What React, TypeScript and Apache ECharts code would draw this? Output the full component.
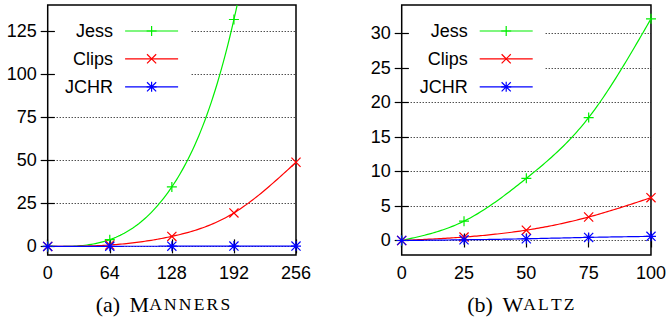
import React, { useEffect, useRef } from "react";
import * as echarts from "echarts";

// Manners benchmark
const mannersX = [0, 64, 128, 192, 256];
const mannersJess = [0, 3.9, 34.5, 131.6, 340];
const mannersClips = [0, 0.8, 5.8, 19.4, 48.8];
const mannersJchr = [0, 0.05, 0.1, 0.15, 0.2];
const mannersYTicks = [0, 25, 50, 75, 100, 125];

// Waltz benchmark
const waltzX = [0, 25, 50, 75, 100];
const waltzJess = [0, 2.8, 9.0, 17.8, 32.1];
const waltzClips = [0, 0.5, 1.5, 3.4, 6.2];
const waltzJchr = [0, 0.1, 0.25, 0.45, 0.6];
const waltzYTicks = [0, 5, 10, 15, 20, 25, 30];

const seriesNames = ["Jess", "Clips", "JCHR"];

const GREEN = "#00ee00";
const RED = "#ff0000";
const BLUE = "#0000ff";

const PLUS = "path://M4.4,0H5.6V10H4.4Z M0,4.4H10V5.6H0Z";
const CROSS = "path://M0,0.85L0.85,0L10,9.15L9.15,10Z M10,0.85L0.85,10L0,9.15L9.15,0Z";
const STAR =
  "path://M4.4,0H5.6V10H4.4Z M0,4.4H10V5.6H0Z M0,0.85L0.85,0L10,9.15L9.15,10Z M10,0.85L0.85,10L0,9.15L9.15,0Z";

const SANS = "Liberation Sans";
const SERIF = "Liberation Serif";

const tickStyle = { show: true, inside: true, length: 7, lineStyle: { color: "#000", width: 1.2 } };

function xAxes(gridIndex: number, max: number, interval: number) {
  const base = {
    type: "value",
    gridIndex,
    min: 0,
    max,
    interval,
    axisLine: { show: false },
    axisTick: tickStyle,
    splitLine: { show: false },
  };
  return [
    {
      ...base,
      position: "bottom",
      axisLabel: { fontSize: 18, fontFamily: SANS, color: "#000", margin: 9 },
    },
    { ...base, position: "top", axisLabel: { show: false } },
  ];
}

function yAxes(gridIndex: number, min: number, max: number, ticks: number[]) {
  const base = {
    type: "value",
    gridIndex,
    min,
    max,
    axisLine: { show: false },
    axisTick: { ...tickStyle, customValues: ticks },
  };
  return [
    {
      ...base,
      position: "left",
      axisLabel: { customValues: ticks, fontSize: 18, fontFamily: SANS, color: "#000", margin: 11 },
      splitLine: { show: true, lineStyle: { color: "#000", width: 1, type: [1, 2] } },
    },
    {
      ...base,
      position: "right",
      axisLabel: { show: false, customValues: ticks },
      splitLine: { show: false },
    },
  ];
}

// natural cubic spline (like gnuplot "smooth csplines") evaluated in data space
function splineSamples(xs: number[], ys: number[], steps: number): number[][] {
  const n = xs.length;
  const h: number[] = [];
  for (let i = 0; i < n - 1; i++) h.push(xs[i + 1] - xs[i]);
  const m = new Array(n).fill(0);
  if (n > 2) {
    const a: number[] = [], b: number[] = [], c: number[] = [], d: number[] = [];
    for (let i = 1; i < n - 1; i++) {
      a.push(h[i - 1]);
      b.push(2 * (h[i - 1] + h[i]));
      c.push(h[i]);
      d.push(6 * ((ys[i + 1] - ys[i]) / h[i] - (ys[i] - ys[i - 1]) / h[i - 1]));
    }
    const k = b.length;
    for (let i = 1; i < k; i++) {
      const w = a[i] / b[i - 1];
      b[i] -= w * c[i - 1];
      d[i] -= w * d[i - 1];
    }
    const sol = new Array(k).fill(0);
    sol[k - 1] = d[k - 1] / b[k - 1];
    for (let i = k - 2; i >= 0; i--) sol[i] = (d[i] - c[i] * sol[i + 1]) / b[i];
    for (let i = 0; i < k; i++) m[i + 1] = sol[i];
  }
  const out: number[][] = [];
  for (let i = 0; i < n - 1; i++) {
    for (let s = 0; s <= steps; s++) {
      if (i > 0 && s === 0) continue;
      const t = s / steps;
      const x = xs[i] + t * h[i];
      const A = 1 - t, B = t;
      const y =
        A * ys[i] + B * ys[i + 1] +
        ((A * A * A - A) * m[i] + (B * B * B - B) * m[i + 1]) * (h[i] * h[i]) / 6;
      out.push([x, y]);
    }
  }
  return out;
}

function curveSeries(xs: number[], ys: number[], axisBase: number, color: string) {
  return {
    type: "custom",
    coordinateSystem: "cartesian2d",
    xAxisIndex: axisBase,
    yAxisIndex: axisBase,
    clip: true,
    silent: true,
    data: xs.map((x, i) => [x, ys[i]]),
    encode: { x: 0, y: 1 },
    renderItem: (params: any, api: any) => {
      if (params.dataIndexInside !== 0) return null;
      const n = params.dataInsideLength;
      const px: number[] = [], py: number[] = [];
      for (let i = 0; i < n; i++) {
        px.push(api.value(0, i));
        py.push(api.value(1, i));
      }
      const pts = splineSamples(px, py, 30).map((p) => api.coord(p));
      return {
        type: "polyline",
        shape: { points: pts },
        style: { stroke: color, lineWidth: 1.2, fill: "none" },
      };
    },
  };
}

function markSeries(
  name: string,
  xs: number[],
  ys: number[],
  axisBase: number,
  color: string,
  symbol: string
) {
  return {
    type: "line",
    name,
    xAxisIndex: axisBase,
    yAxisIndex: axisBase,
    data: xs.map((x, i) => [x, ys[i]]),
    symbol,
    symbolSize: 10,
    showAllSymbol: true,
    lineStyle: { color, width: 1.2, opacity: 0 },
    itemStyle: { color },
    clip: true,
  };
}

function legends(rightPx: number) {
  const tops = [22, 49.8, 77.8];
  return seriesNames.map((n, i) => ({
    orient: "vertical",
    align: "right",
    right: rightPx,
    top: tops[i],
    itemWidth: 53,
    itemHeight: 12.5,
    itemGap: 0,
    padding: 0,
    selectedMode: false,
    lineStyle: { opacity: 1, width: 1.2 },
    textStyle: { fontSize: 18, fontFamily: SANS, color: "#000", padding: [0, 7, 0, 0] },
    data: [n],
  }));
}

function caption(x: number, label: string, first: string, rest: string) {
  const restTokens = rest
    .split("")
    .map((c) => `{s|${c}}`)
    .join("");
  return {
    type: "text",
    x,
    y: 315,
    z: 5,
    silent: true,
    style: {
      text: `{n|${label}} {c|${first}}${restTokens}`,
      fontSize: 22,
      fontFamily: SERIF,
      fill: "#000",
      align: "center",
      verticalAlign: "bottom",
      rich: {
        n: { fontSize: 22, fontFamily: SERIF, fill: "#000", padding: [0, 4, 0, 0] },
        c: { fontSize: 22, fontFamily: SERIF, fill: "#000" },
        s: { fontSize: 17.5, fontFamily: SERIF, fill: "#000", padding: [0, 2.2, 0, 0] },
      },
    },
  };
}

export default function App() {
  const ref = useRef<HTMLDivElement>(null);
  useEffect(() => {
    const chart = echarts.init(ref.current!, null, { renderer: "svg" });
    const option = {
      animation: false,
      backgroundColor: "#fff",
      grid: [
        { left: 47.7, top: 5, width: 248.3, height: 250, show: true, borderColor: "#000", borderWidth: 1.5, backgroundColor: "transparent" },
        { left: 401.7, top: 5, width: 250, height: 250, show: true, borderColor: "#000", borderWidth: 1.5, backgroundColor: "transparent" },
      ],
      xAxis: [...xAxes(0, 256, 64), ...xAxes(1, 100, 25)],
      yAxis: [...yAxes(0, -5, 140, mannersYTicks), ...yAxes(1, -2.1, 34.1, waltzYTicks)],
      legend: [...legends(490.3), ...legends(135.7)],
      series: [
        curveSeries(mannersX, mannersJess, 0, GREEN),
        markSeries("Jess", mannersX, mannersJess, 0, GREEN, PLUS),
        curveSeries(mannersX, mannersClips, 0, RED),
        markSeries("Clips", mannersX, mannersClips, 0, RED, CROSS),
        curveSeries(mannersX, mannersJchr, 0, BLUE),
        markSeries("JCHR", mannersX, mannersJchr, 0, BLUE, STAR),
        curveSeries(waltzX, waltzJess, 2, GREEN),
        markSeries("Jess", waltzX, waltzJess, 2, GREEN, PLUS),
        curveSeries(waltzX, waltzClips, 2, RED),
        markSeries("Clips", waltzX, waltzClips, 2, RED, CROSS),
        curveSeries(waltzX, waltzJchr, 2, BLUE),
        markSeries("JCHR", waltzX, waltzJchr, 2, BLUE, STAR),
      ],
      graphic: [
        { type: "rect", z: 1, silent: true, shape: { x: 56, y: 14, width: 134, height: 81 }, style: { fill: "#fff" } },
        { type: "rect", z: 1, silent: true, shape: { x: 410, y: 14, width: 134, height: 81 }, style: { fill: "#fff" } },
        caption(164, "(a)", "M", "ANNERS"),
        caption(522, "(b)", "W", "ALTZ"),
      ],
    };
    chart.setOption(option as any);
    return () => chart.dispose();
  }, []);
  return (
    <div
      ref={ref}
      style={{ position: "fixed", left: 0, top: 0, width: 669, height: 323, background: "#fff" }}
    />
  );
}
